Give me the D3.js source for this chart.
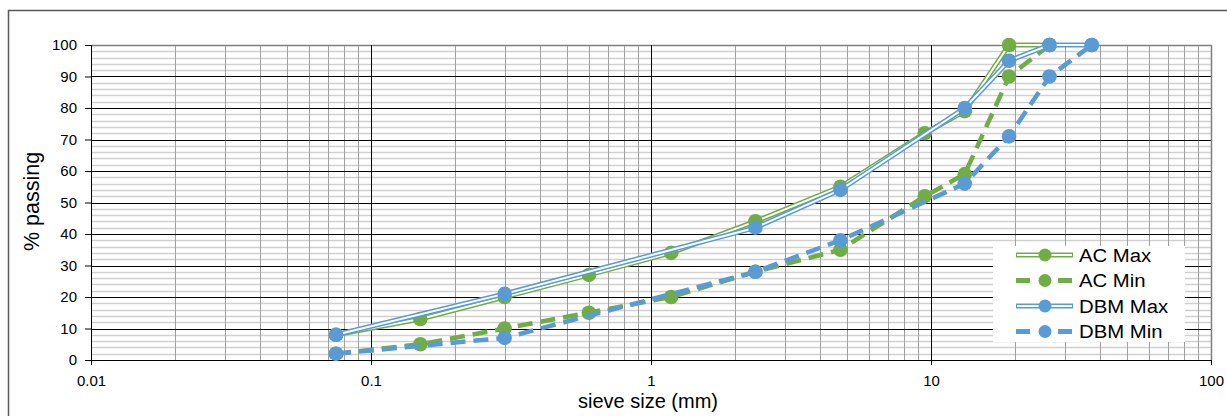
<!DOCTYPE html>
<html>
<head>
<meta charset="utf-8">
<script src="https://cdn.jsdelivr.net/npm/d3@7"></script>
<style>
  body { margin: 0; background: #fff; }
  svg { font-family: "Liberation Sans", Arial, sans-serif; }
</style>
</head>
<body>
<svg id="chart" width="1227" height="416"></svg>
<script>
// sieve sizes (mm) and % passing limits
const acSieve  = [0.075, 0.15, 0.3, 0.6, 1.18, 2.36, 4.75, 9.5, 13.2, 19, 26.5];
const acMax    = [8, 13, 20, 27, 34, 44, 55, 72, 79, 100, 100];
const acMin    = [2, 5, 10, 15, 20, 28, 35, 52, 59, 90, 100];
const dbmSieve = [0.075, 0.3, 2.36, 4.75, 13.2, 19, 26.5, 37.5];
const dbmMax   = [8, 21, 42, 54, 80, 95, 100, 100];
const dbmMin   = [2, 7, 28, 38, 56, 71, 90, 100];
const xTicks = [0.01, 0.1, 1, 10, 100];
const yTicks = [0, 10, 20, 30, 40, 50, 60, 70, 80, 90, 100];

const series = [
  { name: "AC Max",  x: acSieve,  y: acMax,  color: "#70AD47", dashed: false },
  { name: "AC Min",  x: acSieve,  y: acMin,  color: "#70AD47", dashed: true },
  { name: "DBM Max", x: dbmSieve, y: dbmMax, color: "#5B9BD5", dashed: false },
  { name: "DBM Min", x: dbmSieve, y: dbmMin, color: "#5B9BD5", dashed: true }
];

const svg = d3.select("#chart");
const margin = { top: 45, left: 91, right: 16, bottom: 56 };
const plotW = 1211 - margin.left;
const plotH = 360 - margin.top;

// outer chart border
svg.append("rect")
  .attr("x", 8.5).attr("y", 10.5)
  .attr("width", 1240).attr("height", 420)
  .attr("fill", "none").attr("stroke", "#595959").attr("stroke-width", 1.5);

const g = svg.append("g")
  .attr("transform", "translate(" + margin.left + "," + margin.top + ")");

const x = d3.scaleLog().domain([0.01, 100]).range([0, plotW]);
const y = d3.scaleLinear().domain([0, 100]).range([plotH, 0]);

// minor horizontal grid (every 2)
const yMinor = d3.range(0, 101, 2).filter(v => v % 10 !== 0);
g.selectAll(".hminor").data(yMinor).enter().append("line")
  .attr("x1", 0).attr("x2", plotW)
  .attr("y1", d => Math.round(y(d)) + 0.5).attr("y2", d => Math.round(y(d)) + 0.5)
  .attr("stroke", "#d0d0d0").attr("stroke-width", 1.5);

// minor vertical grid
const xMinor = [];
[0.01, 0.1, 1, 10].forEach(dec => { for (let k = 2; k <= 9; k++) xMinor.push(dec * k); });
g.selectAll(".vminor").data(xMinor).enter().append("line")
  .attr("x1", d => Math.round(x(d)) + 0.5).attr("x2", d => Math.round(x(d)) + 0.5)
  .attr("y1", 0).attr("y2", plotH)
  .attr("stroke", "#a0a0a0").attr("stroke-width", 1);

// major grid
g.selectAll(".hmajor").data(yTicks).enter().append("line")
  .attr("x1", 0).attr("x2", plotW)
  .attr("y1", d => Math.round(y(d)) + 0.5).attr("y2", d => Math.round(y(d)) + 0.5)
  .attr("stroke", d => d === 100 ? "#7f7f7f" : "#000").attr("stroke-width", d => d === 100 ? 1.5 : 1);
g.selectAll(".vmajor").data(xTicks).enter().append("line")
  .attr("x1", d => Math.round(x(d)) + 0.5).attr("x2", d => Math.round(x(d)) + 0.5)
  .attr("y1", 0).attr("y2", plotH)
  .attr("stroke", d => d === 100 ? "#7f7f7f" : "#000").attr("stroke-width", d => d === 100 ? 1.5 : 1);

// axes
const yAxis = d3.axisLeft(y).tickValues(yTicks).tickSize(6).tickPadding(8);
const xAxis = d3.axisBottom(x).tickValues(xTicks).tickFormat(d3.format("~g")).tickSize(5).tickPadding(10);
const ya = g.append("g").call(yAxis);
const xa = g.append("g").attr("transform", "translate(0," + plotH + ")").call(xAxis);
[ya, xa].forEach(a => {
  a.select(".domain").attr("stroke", "#000");
  a.selectAll("line").attr("stroke", "#000");
  a.selectAll("text").attr("font-size", 15).attr("fill", "#000")
    .attr("font-family", "Liberation Sans, Arial, sans-serif");
});
xa.select(".domain").remove();
xa.append("line").attr("x1", 0).attr("x2", plotW).attr("y1", 0.5).attr("y2", 0.5).attr("stroke", "#000");

// axis titles
svg.append("text")
  .attr("x", margin.left + plotW / 2 - 3).attr("y", 408)
  .attr("text-anchor", "middle").attr("font-size", 20).attr("fill", "#000")
  .text("sieve size (mm)");
svg.append("text")
  .attr("transform", "translate(39," + (margin.top + plotH / 2 - 1) + ") rotate(-90)")
  .attr("text-anchor", "middle").attr("font-size", 21.5).attr("fill", "#000")
  .text("% passing");

// series
const line = d3.line().x(d => x(d[0])).y(d => y(d[1]));
series.forEach(s => {
  const pts = s.x.map((v, i) => [v, s.y[i]]);
  if (s.dashed) {
    g.append("path").attr("d", line(pts)).attr("fill", "none")
      .attr("stroke", s.color).attr("stroke-width", 4.5).attr("stroke-dasharray", "15,8");
  } else {
    g.append("path").attr("d", line(pts)).attr("fill", "none")
      .attr("stroke", s.color).attr("stroke-width", 5);
    g.append("path").attr("d", line(pts)).attr("fill", "none")
      .attr("stroke", "#fff").attr("stroke-width", 2);
  }
  g.selectAll(null).data(pts).enter().append("circle")
    .attr("cx", d => x(d[0])).attr("cy", d => y(d[1])).attr("r", 7.3)
    .attr("fill", s.color);
});

// legend
const lg = svg.append("g").attr("transform", "translate(993,246)");
lg.append("rect").attr("width", 192).attr("height", 96).attr("fill", "#fff");
series.forEach((s, i) => {
  const row = lg.append("g").attr("transform", "translate(0," + (9 + i * 25.5) + ")");
  if (s.dashed) {
    row.append("line").attr("x1", 23).attr("x2", 79).attr("y1", 0).attr("y2", 0)
      .attr("stroke", s.color).attr("stroke-width", 5).attr("stroke-dasharray", "14,28");
  } else {
    row.append("line").attr("x1", 23).attr("x2", 80).attr("y1", 0).attr("y2", 0)
      .attr("stroke", s.color).attr("stroke-width", 5);
    row.append("line").attr("x1", 24).attr("x2", 79).attr("y1", 0).attr("y2", 0)
      .attr("stroke", "#fff").attr("stroke-width", 2);
  }
  row.append("circle").attr("cx", 52).attr("cy", 0).attr("r", 6.5).attr("fill", s.color);
  row.append("text").attr("transform", "translate(86,6.5) scale(1.13,1)")
    .attr("font-size", 18).attr("fill", "#000").text(s.name);
});
</script>
</body>
</html>
